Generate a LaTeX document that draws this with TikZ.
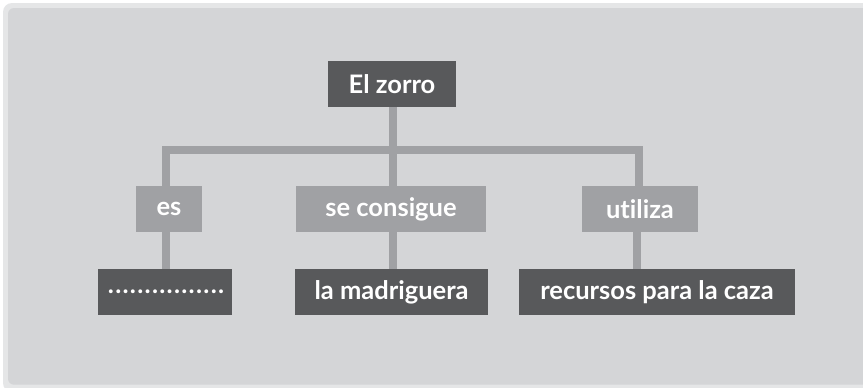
\documentclass[tikz,border=0pt]{standalone}
\usepackage{fontspec}
\setmainfont{Lato}[Ligatures=NoCommon]
\definecolor{bgframe}{HTML}{E5E6E7}
\definecolor{bginner}{HTML}{D4D5D7}
\definecolor{darkbox}{HTML}{58595B}
\definecolor{midbox}{HTML}{A0A1A4}
\tikzset{
  darknode/.style={fill=darkbox, text=white, font=\fontsize{25.5}{28}\selectfont\bfseries, inner sep=0pt, anchor=center},
  midnode/.style={fill=midbox, text=white, font=\fontsize{25.5}{28}\selectfont\bfseries, inner sep=0pt, anchor=center},
  link/.style={draw=midbox, line width=8pt, line join=miter}
}
\begin{document}
\begin{tikzpicture}[x=1pt,y=-1pt]
\useasboundingbox (0,0) rectangle (863,388);
\fill[white] (0,0) rectangle (863,388);
\fill[bgframe, rounded corners=9pt] (3,3) rectangle (880,392);
\fill[bginner, rounded corners=6pt] (8,8) rectangle (875,384.7);
\coordinate (jL) at (166.3,150);
\coordinate (jM) at (393.3,150);
\coordinate (jR) at (638.7,150);
\node[darknode, minimum width=128pt, minimum height=46pt] (zorro) at (392,84) {El zorro};
\node[midnode, minimum width=66pt, minimum height=46pt] (es) at (169,209) {es};
\node[midnode, minimum width=190pt, minimum height=46pt] (seco) at (391,209) {se consigue};
\node[midnode, minimum width=116pt, minimum height=46pt] (util) at (640,209) {utiliza};
\node[darknode, minimum width=134pt, minimum height=46pt] (dots) at (165,292) {\hspace{2pt}\addfontfeatures{LetterSpace=5}................};
\node[darknode, minimum width=193pt, minimum height=46pt] (madr) at (391.5,292) {la madriguera};
\node[darknode, minimum width=276pt, minimum height=46pt] (recu) at (657,292) {recursos para la caza};
% connectors
\draw[link] (jL |- es.north) -- (jL) -- (jR) -- (jR |- util.north);
\draw[link] (zorro.south -| jM) -- (jM |- seco.north);
\draw[link] (es.south -| jL) -- (jL |- dots.north);
\draw[link] (seco.south -| jM) -- (jM |- madr.north);
\draw[link] (util.south -| 637.3,0) -- (637.3,0 |- recu.north);
\end{tikzpicture}
\end{document}
